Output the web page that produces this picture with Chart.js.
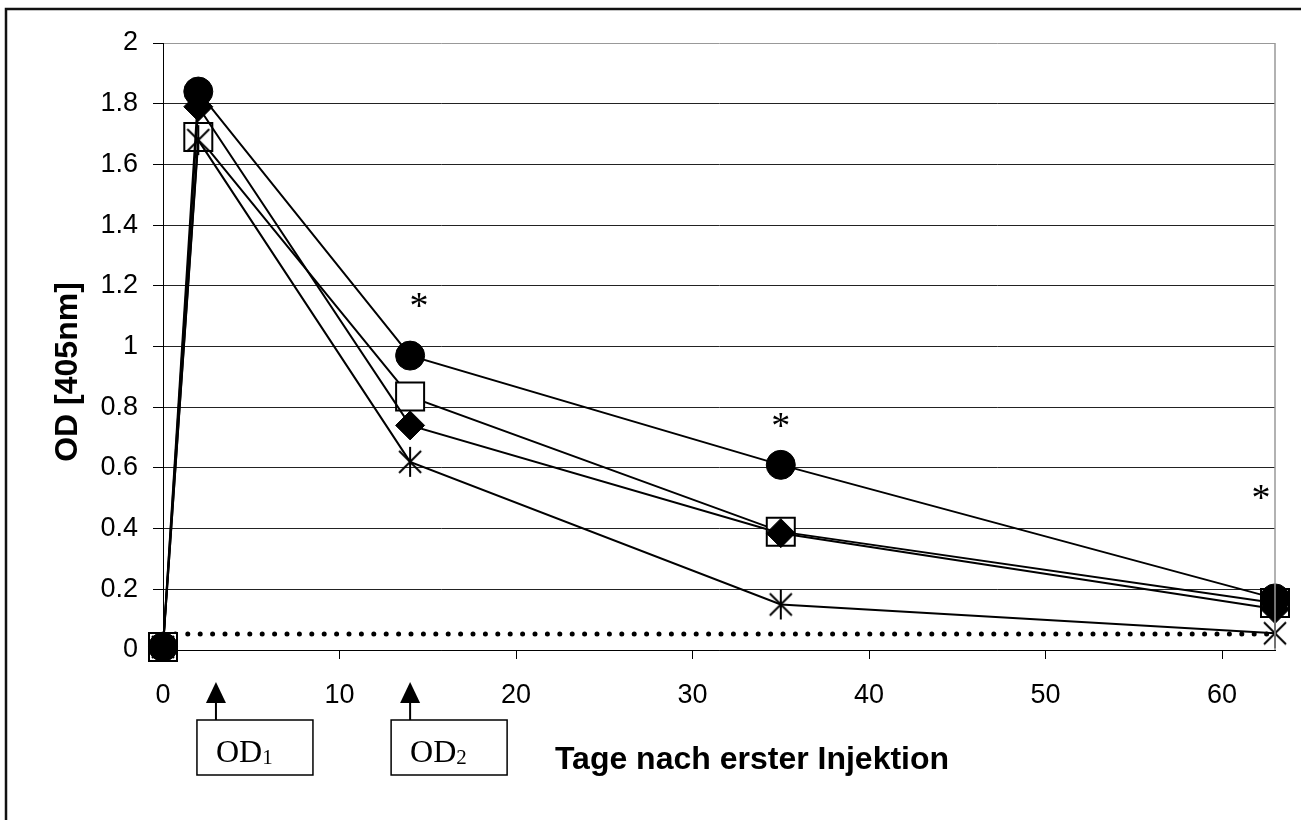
<!DOCTYPE html>
<html>
<head>
<meta charset="utf-8">
<script src="https://cdn.jsdelivr.net/npm/chart.js@4.4.0/dist/chart.umd.min.js"></script>
<style>
body{margin:0;background:#fff;}
#wrap{width:1301px;height:820px;position:relative;}
</style>
</head>
<body>
<div id="wrap"><canvas id="myChart"></canvas></div>
<script>
// Tage nach erster Injektion
const tage = [0, 2, 14, 35, 63];

// OD-Werte der vier Gruppen
const od_kreis   = [0.01, 1.84, 0.97, 0.61, 0.17];
const od_raute   = [0.01, 1.79, 0.74, 0.385, 0.135];
const od_stern   = [0.01, 1.68, 0.62, 0.15, 0.055];
const od_quadrat = [0.01, 1.69, 0.835, 0.39, 0.155];

// Hintergrund / Cut-off
const grenzwert = 0.053;

const x_ticks = [0, 10, 20, 30, 40, 50, 60];
const y_ticks = [0, 0.2, 0.4, 0.6, 0.8, 1, 1.2, 1.4, 1.6, 1.8, 2];
const y_labels = ['0', '0.2', '0.4', '0.6', '0.8', '1', '1.2', '1.4', '1.6', '1.8', '2'];

// Signifikanz-Sterne (Tag, OD)
const stern_tag = [14.5, 35, 62.2];
const stern_od = [1.153, 0.755, 0.52];

// Zeitpunkte der OD-Bestimmung
const messung_tag = [3, 14];
const messung_index = ['1', '2'];

function stern_marker(){
    const c = document.createElement('canvas');
    c.width = 34; c.height = 34;
    const g = c.getContext('2d');
    g.strokeStyle = '#000';
    g.lineWidth = 2;
    g.beginPath();
    g.moveTo(17, 2); g.lineTo(17, 32);
    g.moveTo(6, 6); g.lineTo(28, 28);
    g.moveTo(28, 6); g.lineTo(6, 28);
    g.stroke();
    return c;
}

function punkte(werte){
    return tage.map((t, i) => ({x: t, y: werte[i]}));
}

const zusatz = {
    id: 'zusatz',
    afterDraw(chart){
        const ctx = chart.ctx;
        const xs = chart.scales.x, ys = chart.scales.y;
        const area = chart.chartArea;
        ctx.save();

        // Rahmen
        ctx.strokeStyle = '#111';
        ctx.lineWidth = 2.5;
        ctx.strokeRect(6, 9, 1400, 900);

        // Rand der Zeichenfläche rechts
        ctx.strokeStyle = '#999';
        ctx.lineWidth = 1.5;
        ctx.beginPath();
        ctx.moveTo(area.right, area.top);
        ctx.lineTo(area.right, area.bottom);
        ctx.stroke();

        // Sterne
        ctx.fillStyle = '#000';
        ctx.font = '38px "Liberation Serif"';
        ctx.textAlign = 'center';
        ctx.textBaseline = 'alphabetic';
        stern_tag.forEach((t, i) => {
            const m = ctx.measureText('*');
            const px = xs.getPixelForValue(t);
            const py = ys.getPixelForValue(stern_od[i]);
            const off = (m.actualBoundingBoxAscent - m.actualBoundingBoxDescent) / 2;
            ctx.fillText('*', px, py + off);
        });

        // Pfeile und Kästen
        messung_tag.forEach((t, i) => {
            const px = xs.getPixelForValue(t);
            ctx.fillStyle = '#000';
            ctx.beginPath();
            ctx.moveTo(px, 682);
            ctx.lineTo(px - 10, 703);
            ctx.lineTo(px + 10, 703);
            ctx.closePath();
            ctx.fill();
            ctx.strokeStyle = '#000';
            ctx.lineWidth = 2;
            ctx.beginPath();
            ctx.moveTo(px, 702);
            ctx.lineTo(px, 720);
            ctx.stroke();
            ctx.lineWidth = 1.5;
            ctx.strokeRect(px - 19, 720, 116, 55);
            ctx.textAlign = 'left';
            ctx.font = '32px "Liberation Serif"';
            ctx.fillText('OD', px, 762);
            const w = ctx.measureText('OD').width;
            ctx.font = '21px "Liberation Serif"';
            ctx.fillText(messung_index[i], px + w, 764);
        });

        // Achsentitel
        ctx.font = 'bold 32px "Liberation Sans"';
        ctx.textAlign = 'center';
        ctx.textBaseline = 'alphabetic';
        ctx.fillText('Tage nach erster Injektion', 752, 769);
        ctx.textBaseline = 'middle';
        ctx.translate(68, 372);
        ctx.rotate(-Math.PI / 2);
        ctx.fillText('OD [405nm]', 0, 0);
        ctx.restore();
    }
};

const ctx = document.querySelector('#myChart');
const myChart = new Chart(ctx, {
    type: 'line',
    data: {
        datasets: [
            {label: 'Kreis', data: punkte(od_kreis), pointStyle: 'circle', pointRadius: 14.5,
             backgroundColor: '#000', borderColor: '#000', borderWidth: 2, pointBorderWidth: 1},
            {label: 'Raute', data: punkte(od_raute), pointStyle: 'rectRot', pointRadius: 14.5,
             backgroundColor: '#000', borderColor: '#000', borderWidth: 2, pointBorderWidth: 1},
            {label: 'Stern', data: punkte(od_stern), pointStyle: stern_marker(), pointRadius: 15,
             backgroundColor: '#000', borderColor: '#000', borderWidth: 2},
            {label: 'Quadrat', data: punkte(od_quadrat), pointStyle: 'rect', pointRadius: 19.8,
             backgroundColor: '#fff', borderColor: '#000', borderWidth: 2, pointBorderWidth: 2},
            {label: 'Grenzwert', data: [{x: 0, y: grenzwert}, {x: 63, y: grenzwert}], pointRadius: 0,
             borderColor: '#000', borderWidth: 5, borderDash: [0, 12.4], borderCapStyle: 'round'}
        ]
    },
    options: {
        responsive: true,
        maintainAspectRatio: false,
        animation: false,
        clip: false,
        layout: {padding: {left: 0, top: 43, right: 26, bottom: 0}},
        plugins: {legend: {display: false}, tooltip: {enabled: false}},
        scales: {
            x: {
                type: 'linear', min: 0, max: 63,
                afterBuildTicks: s => { s.ticks = x_ticks.map(v => ({value: v})); },
                afterFit: s => { s.height = 170; },
                grid: {drawOnChartArea: false, tickLength: 9, color: '#000'},
                border: {color: '#000', width: 1},
                ticks: {color: '#000', font: {family: 'Liberation Sans', size: 27}, padding: 20,
                        maxRotation: 0, autoSkip: false}
            },
            y: {
                min: 0, max: 2,
                afterBuildTicks: s => { s.ticks = y_ticks.map(v => ({value: v})); },
                afterFit: s => { s.width = 163; },
                grid: {color: c => (c.tick && c.tick.value === 2) ? '#999' : '#222', tickColor: '#000', tickLength: 10},
                border: {color: '#000', width: 1},
                ticks: {color: '#000', font: {family: 'Liberation Sans', size: 27}, padding: 15,
                        autoSkip: false, callback: (v, i) => y_labels[i]}
            }
        }
    },
    plugins: [zusatz]
});
</script>
</body>
</html>
